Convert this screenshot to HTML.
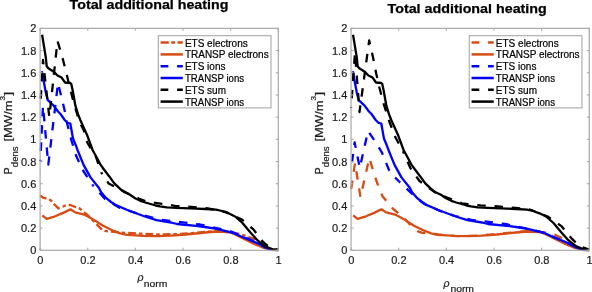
<!DOCTYPE html>
<html><head><meta charset="utf-8"><style>html,body{margin:0;padding:0;background:#fff;width:592px;height:292px;overflow:hidden}</style></head>
<body><svg width="592" height="292" viewBox="0 0 592 292" style="display:block;will-change:transform"><clipPath id="c0"><rect x="38.9" y="27.150000000000002" width="240.60000000000002" height="224.35000000000002"/></clipPath>
<g clip-path="url(#c0)" fill="none" stroke-linejoin="round">
<polyline points="40.10,195.30 42.90,197.60 45.80,198.30 48.70,198.80 51.60,201.10 53.20,203.40 58.50,208.30 61.40,207.30 64.30,206.00 67.20,204.90 71.00,205.20 75.80,207.20 79.00,208.00 88.00,215.50 96.30,224.00 103.10,230.80 111.70,231.70 120.20,232.50 136.00,233.40 160.00,234.50 180.00,234.00 216.70,231.00 230.00,232.50 240.00,234.00 250.30,237.50 254.40,238.80 262.00,245.00 270.00,248.80 278.30,250.00" stroke="#d84c14" stroke-width="2.3" stroke-dasharray="7.8,3,3.5,3" stroke-dashoffset="0.5" stroke-linecap="butt"/>
<polyline points="42.30,215.40 46.60,218.80 55.10,216.30 63.70,212.60 70.50,209.30 75.10,212.40 84.20,214.60 92.40,218.90 103.10,225.70 111.70,230.00 120.20,233.40 127.00,234.80 143.70,235.90 157.40,236.10 171.10,235.60 186.00,234.50 205.00,232.50 216.70,231.50 229.00,232.00 235.20,234.50 244.70,239.30 254.30,244.00 263.90,248.00 272.00,250.00 278.30,250.30" stroke="#d84c14" stroke-width="2.3" stroke-linecap="butt"/>
<polyline points="40.30,161.00 43.00,106.00 48.30,164.70 58.00,83.00 64.70,110.70 67.50,125.00 71.30,140.00 76.20,156.00 83.40,171.00 92.60,185.00" stroke="#0000ff" stroke-width="2.3" stroke-dasharray="8.5,8.8" stroke-dashoffset="7.2" stroke-linecap="butt"/>
<polyline points="92.60,185.00 105.00,199.00 120.00,208.00 136.00,213.00 158.60,219.50 181.00,222.20 200.00,224.50 230.00,231.00 255.70,242.00 265.60,247.60 278.30,250.00" stroke="#0000ff" stroke-width="2.3" stroke-dasharray="8.5,8.8" stroke-dashoffset="6.8" stroke-linecap="butt"/>
<polyline points="41.90,71.20 45.90,93.00 47.80,100.20 53.40,105.40 58.00,111.50 60.50,114.00 64.70,120.00 67.50,122.80 70.30,123.50 73.00,138.50 76.40,146.80 77.50,150.00 83.70,165.10 90.50,177.40 98.80,187.70 101.10,192.30 106.30,198.20 111.00,202.00 116.50,205.40 126.80,209.80 136.00,213.30 146.30,217.00 156.50,220.10 171.10,222.50 177.00,224.00 196.00,225.80 205.00,227.00 216.70,228.80 233.00,232.80 240.00,236.00 250.30,240.20 260.60,244.60 265.10,247.30 272.00,249.80 278.30,250.20" stroke="#0000ff" stroke-width="2.3" stroke-linecap="butt"/>
<polyline points="40.30,106.00 43.00,60.00 49.30,117.00 57.50,41.00 62.00,56.00 64.60,66.00 68.50,82.00 70.50,90.00 72.50,98.00 74.80,106.00 79.40,122.00 83.70,130.00 87.50,143.00 96.00,157.00 101.30,172.60" stroke="#000000" stroke-width="2.3" stroke-dasharray="8.5,8.8" stroke-dashoffset="9.9" stroke-linecap="butt"/>
<polyline points="101.30,172.60 108.60,183.40 115.30,187.00 122.00,190.30 129.70,194.50 138.70,198.50 146.40,201.50 157.00,203.20 175.00,205.80 191.00,206.80 208.00,208.50 226.00,212.00" stroke="#000000" stroke-width="2.3" stroke-dasharray="8.5,8.8" stroke-dashoffset="6.6" stroke-linecap="butt"/>
<polyline points="226.00,212.00 242.00,219.60 253.40,229.40 262.70,241.60 270.00,247.80 278.30,249.60" stroke="#000000" stroke-width="2.3" stroke-dasharray="8.5,8.8" stroke-dashoffset="5.8" stroke-linecap="butt"/>
<polyline points="42.10,34.70 45.90,58.00 46.70,66.30 48.30,68.30 53.40,71.40 57.50,75.50 61.60,77.60 65.10,82.50 70.30,83.00 71.30,84.00 72.80,91.00 75.40,105.70 78.00,114.20 80.30,120.00 84.80,130.00 87.40,135.80 92.60,150.00 97.00,158.00 100.30,164.40 104.00,169.50 109.10,176.20 114.30,183.40 122.00,190.60 124.60,192.20 130.00,194.80 135.10,198.20 140.30,200.80 145.40,202.50 150.60,204.00 155.70,205.50 160.00,206.40 166.80,207.30 177.00,207.90 196.00,208.60 205.00,209.00 216.00,209.70 222.00,211.00 228.50,213.30 235.10,216.50 242.50,223.00 250.20,232.20 257.60,240.40 265.10,246.30 272.70,249.40 278.30,250.10" stroke="#000000" stroke-width="2.3" stroke-linecap="butt"/>
</g>
<rect x="40.1" y="28.35" width="238.20000000000002" height="221.95000000000002" fill="none" stroke="#a9a9a9" stroke-width="1.2"/>
<line x1="40.10" y1="250.3" x2="40.10" y2="247.8" stroke="#a9a9a9" stroke-width="1.1"/>
<line x1="40.10" y1="28.35" x2="40.10" y2="30.85" stroke="#a9a9a9" stroke-width="1.1"/>
<text x="40.30" y="264.20" text-anchor="middle" font-size="11" font-family="Liberation Sans, sans-serif" fill="#1a1a1a" stroke="#1a1a1a" stroke-width="0.2">0</text>
<line x1="87.74" y1="250.3" x2="87.74" y2="247.8" stroke="#a9a9a9" stroke-width="1.1"/>
<line x1="87.74" y1="28.35" x2="87.74" y2="30.85" stroke="#a9a9a9" stroke-width="1.1"/>
<text x="87.94" y="264.20" text-anchor="middle" font-size="11" font-family="Liberation Sans, sans-serif" fill="#1a1a1a" stroke="#1a1a1a" stroke-width="0.2">0.2</text>
<line x1="135.38" y1="250.3" x2="135.38" y2="247.8" stroke="#a9a9a9" stroke-width="1.1"/>
<line x1="135.38" y1="28.35" x2="135.38" y2="30.85" stroke="#a9a9a9" stroke-width="1.1"/>
<text x="135.58" y="264.20" text-anchor="middle" font-size="11" font-family="Liberation Sans, sans-serif" fill="#1a1a1a" stroke="#1a1a1a" stroke-width="0.2">0.4</text>
<line x1="183.02" y1="250.3" x2="183.02" y2="247.8" stroke="#a9a9a9" stroke-width="1.1"/>
<line x1="183.02" y1="28.35" x2="183.02" y2="30.85" stroke="#a9a9a9" stroke-width="1.1"/>
<text x="183.22" y="264.20" text-anchor="middle" font-size="11" font-family="Liberation Sans, sans-serif" fill="#1a1a1a" stroke="#1a1a1a" stroke-width="0.2">0.6</text>
<line x1="230.66" y1="250.3" x2="230.66" y2="247.8" stroke="#a9a9a9" stroke-width="1.1"/>
<line x1="230.66" y1="28.35" x2="230.66" y2="30.85" stroke="#a9a9a9" stroke-width="1.1"/>
<text x="230.86" y="264.20" text-anchor="middle" font-size="11" font-family="Liberation Sans, sans-serif" fill="#1a1a1a" stroke="#1a1a1a" stroke-width="0.2">0.8</text>
<line x1="278.30" y1="250.3" x2="278.30" y2="247.8" stroke="#a9a9a9" stroke-width="1.1"/>
<line x1="278.30" y1="28.35" x2="278.30" y2="30.85" stroke="#a9a9a9" stroke-width="1.1"/>
<text x="278.50" y="264.20" text-anchor="middle" font-size="11" font-family="Liberation Sans, sans-serif" fill="#1a1a1a" stroke="#1a1a1a" stroke-width="0.2">1</text>
<line x1="40.1" y1="250.30" x2="42.6" y2="250.30" stroke="#a9a9a9" stroke-width="1.1"/>
<line x1="278.3" y1="250.30" x2="275.8" y2="250.30" stroke="#a9a9a9" stroke-width="1.1"/>
<text x="36.30" y="254.30" text-anchor="end" font-size="11" font-family="Liberation Sans, sans-serif" fill="#1a1a1a" stroke="#1a1a1a" stroke-width="0.2">0</text>
<line x1="40.1" y1="228.11" x2="42.6" y2="228.11" stroke="#a9a9a9" stroke-width="1.1"/>
<line x1="278.3" y1="228.11" x2="275.8" y2="228.11" stroke="#a9a9a9" stroke-width="1.1"/>
<text x="36.30" y="232.11" text-anchor="end" font-size="11" font-family="Liberation Sans, sans-serif" fill="#1a1a1a" stroke="#1a1a1a" stroke-width="0.2">0.2</text>
<line x1="40.1" y1="205.91" x2="42.6" y2="205.91" stroke="#a9a9a9" stroke-width="1.1"/>
<line x1="278.3" y1="205.91" x2="275.8" y2="205.91" stroke="#a9a9a9" stroke-width="1.1"/>
<text x="36.30" y="209.91" text-anchor="end" font-size="11" font-family="Liberation Sans, sans-serif" fill="#1a1a1a" stroke="#1a1a1a" stroke-width="0.2">0.4</text>
<line x1="40.1" y1="183.72" x2="42.6" y2="183.72" stroke="#a9a9a9" stroke-width="1.1"/>
<line x1="278.3" y1="183.72" x2="275.8" y2="183.72" stroke="#a9a9a9" stroke-width="1.1"/>
<text x="36.30" y="187.72" text-anchor="end" font-size="11" font-family="Liberation Sans, sans-serif" fill="#1a1a1a" stroke="#1a1a1a" stroke-width="0.2">0.6</text>
<line x1="40.1" y1="161.52" x2="42.6" y2="161.52" stroke="#a9a9a9" stroke-width="1.1"/>
<line x1="278.3" y1="161.52" x2="275.8" y2="161.52" stroke="#a9a9a9" stroke-width="1.1"/>
<text x="36.30" y="165.52" text-anchor="end" font-size="11" font-family="Liberation Sans, sans-serif" fill="#1a1a1a" stroke="#1a1a1a" stroke-width="0.2">0.8</text>
<line x1="40.1" y1="139.32" x2="42.6" y2="139.32" stroke="#a9a9a9" stroke-width="1.1"/>
<line x1="278.3" y1="139.32" x2="275.8" y2="139.32" stroke="#a9a9a9" stroke-width="1.1"/>
<text x="36.30" y="143.32" text-anchor="end" font-size="11" font-family="Liberation Sans, sans-serif" fill="#1a1a1a" stroke="#1a1a1a" stroke-width="0.2">1</text>
<line x1="40.1" y1="117.13" x2="42.6" y2="117.13" stroke="#a9a9a9" stroke-width="1.1"/>
<line x1="278.3" y1="117.13" x2="275.8" y2="117.13" stroke="#a9a9a9" stroke-width="1.1"/>
<text x="36.30" y="121.13" text-anchor="end" font-size="11" font-family="Liberation Sans, sans-serif" fill="#1a1a1a" stroke="#1a1a1a" stroke-width="0.2">1.2</text>
<line x1="40.1" y1="94.93" x2="42.6" y2="94.93" stroke="#a9a9a9" stroke-width="1.1"/>
<line x1="278.3" y1="94.93" x2="275.8" y2="94.93" stroke="#a9a9a9" stroke-width="1.1"/>
<text x="36.30" y="98.93" text-anchor="end" font-size="11" font-family="Liberation Sans, sans-serif" fill="#1a1a1a" stroke="#1a1a1a" stroke-width="0.2">1.4</text>
<line x1="40.1" y1="72.74" x2="42.6" y2="72.74" stroke="#a9a9a9" stroke-width="1.1"/>
<line x1="278.3" y1="72.74" x2="275.8" y2="72.74" stroke="#a9a9a9" stroke-width="1.1"/>
<text x="36.30" y="76.74" text-anchor="end" font-size="11" font-family="Liberation Sans, sans-serif" fill="#1a1a1a" stroke="#1a1a1a" stroke-width="0.2">1.6</text>
<line x1="40.1" y1="50.54" x2="42.6" y2="50.54" stroke="#a9a9a9" stroke-width="1.1"/>
<line x1="278.3" y1="50.54" x2="275.8" y2="50.54" stroke="#a9a9a9" stroke-width="1.1"/>
<text x="36.30" y="54.54" text-anchor="end" font-size="11" font-family="Liberation Sans, sans-serif" fill="#1a1a1a" stroke="#1a1a1a" stroke-width="0.2">1.8</text>
<line x1="40.1" y1="28.35" x2="42.6" y2="28.35" stroke="#a9a9a9" stroke-width="1.1"/>
<line x1="278.3" y1="28.35" x2="275.8" y2="28.35" stroke="#a9a9a9" stroke-width="1.1"/>
<text x="36.30" y="32.35" text-anchor="end" font-size="11" font-family="Liberation Sans, sans-serif" fill="#1a1a1a" stroke="#1a1a1a" stroke-width="0.2">2</text>
<text x="69.60" y="9.00" font-size="12.4" font-family="Liberation Sans, sans-serif" fill="#000" textLength="158.80" lengthAdjust="spacingAndGlyphs" font-weight="bold" stroke="#000" stroke-width="0.25">Total additional heating</text>
<g transform="translate(12.30,174.2) rotate(-90)"><text x="-0.30" y="0.00" font-size="10.5" font-family="Liberation Sans, sans-serif" fill="#1a1a1a" stroke="#1a1a1a" stroke-width="0.2" textLength="7.20" lengthAdjust="spacingAndGlyphs">P</text><text x="7.00" y="5.30" font-size="8.8" font-family="Liberation Sans, sans-serif" fill="#1a1a1a" stroke="#1a1a1a" stroke-width="0.2" textLength="20.80" lengthAdjust="spacingAndGlyphs">dens</text><text x="32.60" y="0.00" font-size="10.8" font-family="Liberation Sans, sans-serif" fill="#1a1a1a" stroke="#1a1a1a" stroke-width="0.2" textLength="41.20" lengthAdjust="spacingAndGlyphs">[MW/m</text><text x="73.60" y="-7.60" font-size="7.8" font-family="Liberation Sans, sans-serif" fill="#1a1a1a" stroke="#1a1a1a" stroke-width="0.2" textLength="4.60" lengthAdjust="spacingAndGlyphs">3</text><text x="78.40" y="0.00" font-size="10.5" font-family="Liberation Sans, sans-serif" fill="#1a1a1a" stroke="#1a1a1a" stroke-width="0.2" textLength="4.00" lengthAdjust="spacingAndGlyphs">]</text></g>
<text x="137.40" y="281.30" font-size="10.5" font-family="Liberation Sans, sans-serif" fill="#1a1a1a" stroke="#1a1a1a" stroke-width="0.2" font-style="italic">ρ</text>
<text x="143.80" y="286.60" font-size="9.6" font-family="Liberation Sans, sans-serif" fill="#1a1a1a" stroke="#1a1a1a" stroke-width="0.2" textLength="23.60" lengthAdjust="spacingAndGlyphs">norm</text>
<rect x="158.30" y="35.7" width="112.7" height="72.2" fill="#fff" stroke="#a9a9a9" stroke-width="1.1"/>
<line x1="160.60" y1="42.60" x2="182.80" y2="42.60" stroke="#d84c14" stroke-width="2.5" stroke-dasharray="8.2,2.5,3.7,2.5"/>
<text x="184.90" y="46.50" font-size="10" font-family="Liberation Sans, sans-serif" fill="#000" stroke="#000" stroke-width="0.2">ETS electrons</text>
<line x1="160.60" y1="54.40" x2="182.80" y2="54.40" stroke="#d84c14" stroke-width="2.5"/>
<text x="184.90" y="58.30" font-size="10" font-family="Liberation Sans, sans-serif" fill="#000" stroke="#000" stroke-width="0.2">TRANSP electrons</text>
<line x1="160.60" y1="66.20" x2="182.80" y2="66.20" stroke="#0000ff" stroke-width="2.5" stroke-dasharray="7.7,8.8"/>
<text x="184.90" y="70.10" font-size="10" font-family="Liberation Sans, sans-serif" fill="#000" stroke="#000" stroke-width="0.2">ETS ions</text>
<line x1="160.60" y1="78.00" x2="182.80" y2="78.00" stroke="#0000ff" stroke-width="2.5"/>
<text x="184.90" y="81.90" font-size="10" font-family="Liberation Sans, sans-serif" fill="#000" stroke="#000" stroke-width="0.2" textLength="59.20" lengthAdjust="spacingAndGlyphs">TRANSP ions</text>
<line x1="160.60" y1="89.80" x2="182.80" y2="89.80" stroke="#000000" stroke-width="2.5" stroke-dasharray="7.7,8.8"/>
<text x="184.90" y="93.70" font-size="10" font-family="Liberation Sans, sans-serif" fill="#000" stroke="#000" stroke-width="0.2">ETS sum</text>
<line x1="160.60" y1="101.60" x2="182.80" y2="101.60" stroke="#000000" stroke-width="2.5"/>
<text x="184.90" y="105.50" font-size="10" font-family="Liberation Sans, sans-serif" fill="#000" stroke="#000" stroke-width="0.2" textLength="59.20" lengthAdjust="spacingAndGlyphs">TRANSP ions</text>
<clipPath id="c1"><rect x="349.85" y="27.150000000000002" width="240.64999999999995" height="224.35000000000002"/></clipPath>
<g clip-path="url(#c1)" fill="none" stroke-linejoin="round">
<polyline points="351.05,190.00 355.00,163.00 360.50,197.00 369.30,158.00 376.40,181.00 382.50,196.20 393.20,209.00 400.00,214.50 405.80,220.00 410.00,224.50 414.60,228.70 418.00,231.40 421.60,232.60 427.00,233.30 436.00,234.20 456.00,236.20 476.50,235.60 497.00,234.10 516.00,232.10 527.00,231.10 541.00,232.00 552.00,233.30 566.00,240.30 576.00,246.00 589.30,250.00" stroke="#d84c14" stroke-width="2.3" stroke-dasharray="8.5,8.8" stroke-dashoffset="16.24" stroke-linecap="butt"/>
<polyline points="353.25,215.40 357.55,218.80 366.05,216.30 374.65,212.60 381.46,209.30 386.06,212.40 395.16,214.60 403.36,218.90 414.06,225.70 422.67,230.00 431.17,233.40 437.97,234.80 454.67,235.90 468.37,236.10 482.08,235.60 496.98,234.50 515.98,232.50 527.69,231.50 539.99,232.00 546.19,234.50 555.69,239.30 565.29,244.00 574.90,248.00 583.00,250.00 589.30,250.30" stroke="#d84c14" stroke-width="2.3" stroke-linecap="butt"/>
<polyline points="351.05,170.00 354.60,142.30 359.80,168.00 368.00,131.00 375.70,142.20 382.00,152.70 389.00,170.00 394.00,176.50 399.00,181.40" stroke="#0000ff" stroke-width="2.3" stroke-dasharray="8.5,8.8" stroke-dashoffset="9.5" stroke-linecap="butt"/>
<polyline points="399.00,181.40 410.80,192.60 424.10,203.90 440.00,211.00 455.00,216.00 471.40,219.90 488.90,221.90 505.20,224.00 527.00,228.60 544.00,232.80 561.00,240.20 576.00,247.30 583.00,249.80 589.30,250.20" stroke="#0000ff" stroke-width="2.3" stroke-dasharray="8.5,8.8" stroke-dashoffset="6.8" stroke-linecap="butt"/>
<polyline points="352.85,71.20 356.85,93.00 358.75,100.20 364.35,105.40 368.95,111.50 371.45,114.00 375.66,120.00 378.46,122.80 381.26,123.50 383.96,138.50 387.36,146.80 388.46,150.00 394.66,165.10 401.46,177.40 409.76,187.70 412.06,192.30 417.26,198.20 421.96,202.00 427.47,205.40 437.77,209.80 446.97,213.30 457.27,217.00 467.47,220.10 482.08,222.50 487.98,224.00 506.98,225.80 515.98,227.00 527.69,228.80 543.99,232.80 550.99,236.00 561.29,240.20 571.60,244.60 576.10,247.30 583.00,249.80 589.30,250.20" stroke="#0000ff" stroke-width="2.3" stroke-linecap="butt"/>
<polyline points="351.05,108.00 355.00,52.50 359.50,112.00 369.20,40.50 372.90,56.70 376.20,73.50 379.50,88.00 384.00,105.00 389.50,122.00 395.50,137.50 403.80,153.00" stroke="#000000" stroke-width="2.3" stroke-dasharray="8.5,8.8" stroke-dashoffset="7.6" stroke-linecap="butt"/>
<polyline points="403.80,153.00 410.60,168.50 419.50,181.00 436.00,193.00 447.60,197.70 462.00,203.30 480.60,205.40 498.00,206.40 515.50,208.00 530.00,209.50" stroke="#000000" stroke-width="2.3" stroke-dasharray="8.5,8.8" stroke-dashoffset="7.8" stroke-linecap="butt"/>
<polyline points="530.00,209.50 547.60,216.50 561.40,226.10 572.00,238.90 580.00,246.50 589.30,249.50" stroke="#000000" stroke-width="2.3" stroke-dasharray="8.5,8.8" stroke-dashoffset="3.0" stroke-linecap="butt"/>
<polyline points="353.05,34.70 356.85,58.00 357.65,66.30 359.25,68.30 364.35,71.40 368.45,75.50 372.55,77.60 376.06,82.50 381.26,83.00 382.26,84.00 383.76,91.00 386.36,105.70 388.96,114.20 391.26,120.00 395.76,130.00 398.36,135.80 403.56,150.00 407.96,158.00 411.26,164.40 414.96,169.50 420.06,176.20 425.27,183.40 432.97,190.60 435.57,192.20 440.97,194.80 446.07,198.20 451.27,200.80 456.37,202.50 461.57,204.00 466.67,205.50 470.98,206.40 477.78,207.30 487.98,207.90 506.98,208.60 515.98,209.00 526.99,209.70 532.99,211.00 539.49,213.30 546.09,216.50 553.49,223.00 561.19,232.20 568.60,240.40 576.10,246.30 583.70,249.40 589.30,250.10" stroke="#000000" stroke-width="2.3" stroke-linecap="butt"/>
</g>
<rect x="351.05" y="28.35" width="238.24999999999994" height="221.95000000000002" fill="none" stroke="#a9a9a9" stroke-width="1.2"/>
<line x1="351.05" y1="250.3" x2="351.05" y2="247.8" stroke="#a9a9a9" stroke-width="1.1"/>
<line x1="351.05" y1="28.35" x2="351.05" y2="30.85" stroke="#a9a9a9" stroke-width="1.1"/>
<text x="351.25" y="264.20" text-anchor="middle" font-size="11" font-family="Liberation Sans, sans-serif" fill="#1a1a1a" stroke="#1a1a1a" stroke-width="0.2">0</text>
<line x1="398.70" y1="250.3" x2="398.70" y2="247.8" stroke="#a9a9a9" stroke-width="1.1"/>
<line x1="398.70" y1="28.35" x2="398.70" y2="30.85" stroke="#a9a9a9" stroke-width="1.1"/>
<text x="398.90" y="264.20" text-anchor="middle" font-size="11" font-family="Liberation Sans, sans-serif" fill="#1a1a1a" stroke="#1a1a1a" stroke-width="0.2">0.2</text>
<line x1="446.35" y1="250.3" x2="446.35" y2="247.8" stroke="#a9a9a9" stroke-width="1.1"/>
<line x1="446.35" y1="28.35" x2="446.35" y2="30.85" stroke="#a9a9a9" stroke-width="1.1"/>
<text x="446.55" y="264.20" text-anchor="middle" font-size="11" font-family="Liberation Sans, sans-serif" fill="#1a1a1a" stroke="#1a1a1a" stroke-width="0.2">0.4</text>
<line x1="494.00" y1="250.3" x2="494.00" y2="247.8" stroke="#a9a9a9" stroke-width="1.1"/>
<line x1="494.00" y1="28.35" x2="494.00" y2="30.85" stroke="#a9a9a9" stroke-width="1.1"/>
<text x="494.20" y="264.20" text-anchor="middle" font-size="11" font-family="Liberation Sans, sans-serif" fill="#1a1a1a" stroke="#1a1a1a" stroke-width="0.2">0.6</text>
<line x1="541.65" y1="250.3" x2="541.65" y2="247.8" stroke="#a9a9a9" stroke-width="1.1"/>
<line x1="541.65" y1="28.35" x2="541.65" y2="30.85" stroke="#a9a9a9" stroke-width="1.1"/>
<text x="541.85" y="264.20" text-anchor="middle" font-size="11" font-family="Liberation Sans, sans-serif" fill="#1a1a1a" stroke="#1a1a1a" stroke-width="0.2">0.8</text>
<line x1="589.30" y1="250.3" x2="589.30" y2="247.8" stroke="#a9a9a9" stroke-width="1.1"/>
<line x1="589.30" y1="28.35" x2="589.30" y2="30.85" stroke="#a9a9a9" stroke-width="1.1"/>
<text x="589.50" y="264.20" text-anchor="middle" font-size="11" font-family="Liberation Sans, sans-serif" fill="#1a1a1a" stroke="#1a1a1a" stroke-width="0.2">1</text>
<line x1="351.05" y1="250.30" x2="353.55" y2="250.30" stroke="#a9a9a9" stroke-width="1.1"/>
<line x1="589.3" y1="250.30" x2="586.8" y2="250.30" stroke="#a9a9a9" stroke-width="1.1"/>
<text x="347.25" y="254.30" text-anchor="end" font-size="11" font-family="Liberation Sans, sans-serif" fill="#1a1a1a" stroke="#1a1a1a" stroke-width="0.2">0</text>
<line x1="351.05" y1="228.11" x2="353.55" y2="228.11" stroke="#a9a9a9" stroke-width="1.1"/>
<line x1="589.3" y1="228.11" x2="586.8" y2="228.11" stroke="#a9a9a9" stroke-width="1.1"/>
<text x="347.25" y="232.11" text-anchor="end" font-size="11" font-family="Liberation Sans, sans-serif" fill="#1a1a1a" stroke="#1a1a1a" stroke-width="0.2">0.2</text>
<line x1="351.05" y1="205.91" x2="353.55" y2="205.91" stroke="#a9a9a9" stroke-width="1.1"/>
<line x1="589.3" y1="205.91" x2="586.8" y2="205.91" stroke="#a9a9a9" stroke-width="1.1"/>
<text x="347.25" y="209.91" text-anchor="end" font-size="11" font-family="Liberation Sans, sans-serif" fill="#1a1a1a" stroke="#1a1a1a" stroke-width="0.2">0.4</text>
<line x1="351.05" y1="183.72" x2="353.55" y2="183.72" stroke="#a9a9a9" stroke-width="1.1"/>
<line x1="589.3" y1="183.72" x2="586.8" y2="183.72" stroke="#a9a9a9" stroke-width="1.1"/>
<text x="347.25" y="187.72" text-anchor="end" font-size="11" font-family="Liberation Sans, sans-serif" fill="#1a1a1a" stroke="#1a1a1a" stroke-width="0.2">0.6</text>
<line x1="351.05" y1="161.52" x2="353.55" y2="161.52" stroke="#a9a9a9" stroke-width="1.1"/>
<line x1="589.3" y1="161.52" x2="586.8" y2="161.52" stroke="#a9a9a9" stroke-width="1.1"/>
<text x="347.25" y="165.52" text-anchor="end" font-size="11" font-family="Liberation Sans, sans-serif" fill="#1a1a1a" stroke="#1a1a1a" stroke-width="0.2">0.8</text>
<line x1="351.05" y1="139.32" x2="353.55" y2="139.32" stroke="#a9a9a9" stroke-width="1.1"/>
<line x1="589.3" y1="139.32" x2="586.8" y2="139.32" stroke="#a9a9a9" stroke-width="1.1"/>
<text x="347.25" y="143.32" text-anchor="end" font-size="11" font-family="Liberation Sans, sans-serif" fill="#1a1a1a" stroke="#1a1a1a" stroke-width="0.2">1</text>
<line x1="351.05" y1="117.13" x2="353.55" y2="117.13" stroke="#a9a9a9" stroke-width="1.1"/>
<line x1="589.3" y1="117.13" x2="586.8" y2="117.13" stroke="#a9a9a9" stroke-width="1.1"/>
<text x="347.25" y="121.13" text-anchor="end" font-size="11" font-family="Liberation Sans, sans-serif" fill="#1a1a1a" stroke="#1a1a1a" stroke-width="0.2">1.2</text>
<line x1="351.05" y1="94.93" x2="353.55" y2="94.93" stroke="#a9a9a9" stroke-width="1.1"/>
<line x1="589.3" y1="94.93" x2="586.8" y2="94.93" stroke="#a9a9a9" stroke-width="1.1"/>
<text x="347.25" y="98.93" text-anchor="end" font-size="11" font-family="Liberation Sans, sans-serif" fill="#1a1a1a" stroke="#1a1a1a" stroke-width="0.2">1.4</text>
<line x1="351.05" y1="72.74" x2="353.55" y2="72.74" stroke="#a9a9a9" stroke-width="1.1"/>
<line x1="589.3" y1="72.74" x2="586.8" y2="72.74" stroke="#a9a9a9" stroke-width="1.1"/>
<text x="347.25" y="76.74" text-anchor="end" font-size="11" font-family="Liberation Sans, sans-serif" fill="#1a1a1a" stroke="#1a1a1a" stroke-width="0.2">1.6</text>
<line x1="351.05" y1="50.54" x2="353.55" y2="50.54" stroke="#a9a9a9" stroke-width="1.1"/>
<line x1="589.3" y1="50.54" x2="586.8" y2="50.54" stroke="#a9a9a9" stroke-width="1.1"/>
<text x="347.25" y="54.54" text-anchor="end" font-size="11" font-family="Liberation Sans, sans-serif" fill="#1a1a1a" stroke="#1a1a1a" stroke-width="0.2">1.8</text>
<line x1="351.05" y1="28.35" x2="353.55" y2="28.35" stroke="#a9a9a9" stroke-width="1.1"/>
<line x1="589.3" y1="28.35" x2="586.8" y2="28.35" stroke="#a9a9a9" stroke-width="1.1"/>
<text x="347.25" y="32.35" text-anchor="end" font-size="11" font-family="Liberation Sans, sans-serif" fill="#1a1a1a" stroke="#1a1a1a" stroke-width="0.2">2</text>
<text x="387.50" y="12.80" font-size="12.4" font-family="Liberation Sans, sans-serif" fill="#000" textLength="159.30" lengthAdjust="spacingAndGlyphs" font-weight="bold" stroke="#000" stroke-width="0.25">Total additional heating</text>
<g transform="translate(323.25,174.2) rotate(-90)"><text x="-0.30" y="0.00" font-size="10.5" font-family="Liberation Sans, sans-serif" fill="#1a1a1a" stroke="#1a1a1a" stroke-width="0.2" textLength="7.20" lengthAdjust="spacingAndGlyphs">P</text><text x="7.00" y="5.30" font-size="8.8" font-family="Liberation Sans, sans-serif" fill="#1a1a1a" stroke="#1a1a1a" stroke-width="0.2" textLength="20.80" lengthAdjust="spacingAndGlyphs">dens</text><text x="32.60" y="0.00" font-size="10.8" font-family="Liberation Sans, sans-serif" fill="#1a1a1a" stroke="#1a1a1a" stroke-width="0.2" textLength="41.20" lengthAdjust="spacingAndGlyphs">[MW/m</text><text x="73.60" y="-7.60" font-size="7.8" font-family="Liberation Sans, sans-serif" fill="#1a1a1a" stroke="#1a1a1a" stroke-width="0.2" textLength="4.60" lengthAdjust="spacingAndGlyphs">3</text><text x="78.40" y="0.00" font-size="10.5" font-family="Liberation Sans, sans-serif" fill="#1a1a1a" stroke="#1a1a1a" stroke-width="0.2" textLength="4.00" lengthAdjust="spacingAndGlyphs">]</text></g>
<text x="443.60" y="286.50" font-size="10.5" font-family="Liberation Sans, sans-serif" fill="#1a1a1a" stroke="#1a1a1a" stroke-width="0.2" font-style="italic">ρ</text>
<text x="450.40" y="291.80" font-size="9.6" font-family="Liberation Sans, sans-serif" fill="#1a1a1a" stroke="#1a1a1a" stroke-width="0.2" textLength="23.60" lengthAdjust="spacingAndGlyphs">norm</text>
<rect x="469.25" y="35.7" width="112.7" height="72.2" fill="#fff" stroke="#a9a9a9" stroke-width="1.1"/>
<line x1="471.55" y1="42.60" x2="493.75" y2="42.60" stroke="#d84c14" stroke-width="2.5" stroke-dasharray="7.7,8.8"/>
<text x="495.85" y="46.50" font-size="10" font-family="Liberation Sans, sans-serif" fill="#000" stroke="#000" stroke-width="0.2">ETS electrons</text>
<line x1="471.55" y1="54.40" x2="493.75" y2="54.40" stroke="#d84c14" stroke-width="2.5"/>
<text x="495.85" y="58.30" font-size="10" font-family="Liberation Sans, sans-serif" fill="#000" stroke="#000" stroke-width="0.2">TRANSP electrons</text>
<line x1="471.55" y1="66.20" x2="493.75" y2="66.20" stroke="#0000ff" stroke-width="2.5" stroke-dasharray="7.7,8.8"/>
<text x="495.85" y="70.10" font-size="10" font-family="Liberation Sans, sans-serif" fill="#000" stroke="#000" stroke-width="0.2">ETS ions</text>
<line x1="471.55" y1="78.00" x2="493.75" y2="78.00" stroke="#0000ff" stroke-width="2.5"/>
<text x="495.85" y="81.90" font-size="10" font-family="Liberation Sans, sans-serif" fill="#000" stroke="#000" stroke-width="0.2" textLength="59.20" lengthAdjust="spacingAndGlyphs">TRANSP ions</text>
<line x1="471.55" y1="89.80" x2="493.75" y2="89.80" stroke="#000000" stroke-width="2.5" stroke-dasharray="7.7,8.8"/>
<text x="495.85" y="93.70" font-size="10" font-family="Liberation Sans, sans-serif" fill="#000" stroke="#000" stroke-width="0.2">ETS sum</text>
<line x1="471.55" y1="101.60" x2="493.75" y2="101.60" stroke="#000000" stroke-width="2.5"/>
<text x="495.85" y="105.50" font-size="10" font-family="Liberation Sans, sans-serif" fill="#000" stroke="#000" stroke-width="0.2" textLength="59.20" lengthAdjust="spacingAndGlyphs">TRANSP ions</text></svg></body></html>
